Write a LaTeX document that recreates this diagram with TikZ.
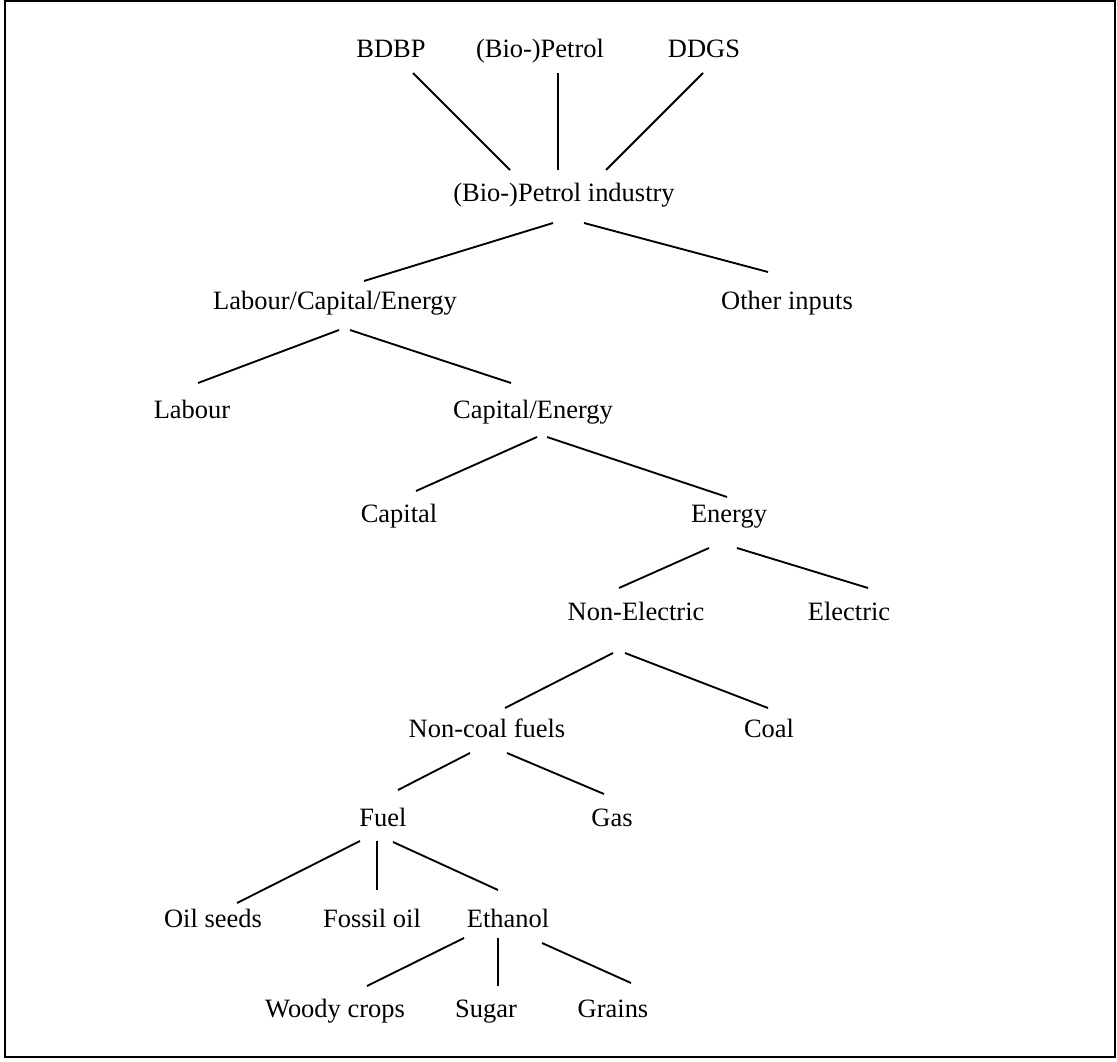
\documentclass[tikz,border=0pt]{standalone}
\usepackage{fontspec}
\setmainfont{Liberation Serif}
\begin{document}
\begin{tikzpicture}[x=0.75pt,y=-0.75pt,
  lbl/.style={anchor=base,inner sep=0pt,font=\fontsize{19.85pt}{24pt}\selectfont},
  conn/.style={line width=1.4pt},
  frame/.style={line width=1.6pt}]
\useasboundingbox (0,0) rectangle (1117,1062);
\draw[frame] (5,1.2) rectangle (1115,1057);

\node[lbl] (bdbp)   at (391,58)   {BDBP};
\node[lbl] (bpet)   at (540,58)   {(Bio-)Petrol};
\node[lbl] (ddgs)   at (704,58)   {DDGS};
\node[lbl] (ind)    at (564,202)  {(Bio-)Petrol industry};
\node[lbl] (lce)    at (335,310)  {Labour/Capital/Energy};
\node[lbl] (oth)    at (787,310)  {Other inputs};
\node[lbl] (lab)    at (192,418)  {Labour};
\node[lbl] (ce)     at (533,418)  {Capital/Energy};
\node[lbl] (cap)    at (399,522)  {Capital};
\node[lbl] (ene)    at (729,522)  {Energy};
\node[lbl] (nel)    at (636,620)  {Non-Electric};
\node[lbl] (ele)    at (849,620)  {Electric};
\node[lbl] (ncf)    at (487,737)  {Non-coal fuels};
\node[lbl] (coal)   at (769,737)  {Coal};
\node[lbl] (fuel)   at (383,826)  {Fuel};
\node[lbl] (gas)    at (612,826)  {Gas};
\node[lbl] (oils)   at (213,927)  {Oil seeds};
\node[lbl] (fos)    at (372,927)  {Fossil oil};
\node[lbl] (eth)    at (508,927)  {Ethanol};
\node[lbl] (woody)  at (335,1017) {Woody crops};
\node[lbl] (sugar)  at (486,1017) {Sugar};
\node[lbl] (grains) at (613,1017) {Grains};

\draw[conn] ([shift={(22,15)}]bdbp.base) -- ([shift={(-54,-32)}]ind.base);
\draw[conn] ([shift={(18,15)}]bpet.base) -- ([shift={(-6,-32)}]ind.base);
\draw[conn] ([shift={(-1,15)}]ddgs.base) -- ([shift={(42,-32)}]ind.base);
\draw[conn] ([shift={(-11,21)}]ind.base) -- ([shift={(29,-29)}]lce.base);
\draw[conn] ([shift={(20,21)}]ind.base) -- ([shift={(-19,-38)}]oth.base);
\draw[conn] ([shift={(4,20)}]lce.base) -- ([shift={(6,-35)}]lab.base);
\draw[conn] ([shift={(15,20)}]lce.base) -- ([shift={(-22,-35)}]ce.base);
\draw[conn] ([shift={(4,19)}]ce.base) -- ([shift={(17,-31)}]cap.base);
\draw[conn] ([shift={(14,19)}]ce.base) -- ([shift={(-2,-25)}]ene.base);
\draw[conn] ([shift={(-20,26)}]ene.base) -- ([shift={(-17,-32)}]nel.base);
\draw[conn] ([shift={(8,26)}]ene.base) -- ([shift={(19,-32)}]ele.base);
\draw[conn] ([shift={(-23,33)}]nel.base) -- ([shift={(18,-29)}]ncf.base);
\draw[conn] ([shift={(-11,33)}]nel.base) -- ([shift={(-1,-29)}]coal.base);
\draw[conn] ([shift={(-17,16)}]ncf.base) -- ([shift={(15,-36)}]fuel.base);
\draw[conn] ([shift={(20,16)}]ncf.base) -- ([shift={(-8,-32)}]gas.base);
\draw[conn] ([shift={(-23,15)}]fuel.base) -- ([shift={(24,-24)}]oils.base);
\draw[conn] ([shift={(-6,15)}]fuel.base) -- ([shift={(5,-37)}]fos.base);
\draw[conn] ([shift={(10,16)}]fuel.base) -- ([shift={(-10,-37)}]eth.base);
\draw[conn] ([shift={(-44,11)}]eth.base) -- ([shift={(32,-31)}]woody.base);
\draw[conn] ([shift={(-10,11)}]eth.base) -- ([shift={(12,-31)}]sugar.base);
\draw[conn] ([shift={(34,16)}]eth.base) -- ([shift={(18,-34)}]grains.base);
\end{tikzpicture}
\end{document}
